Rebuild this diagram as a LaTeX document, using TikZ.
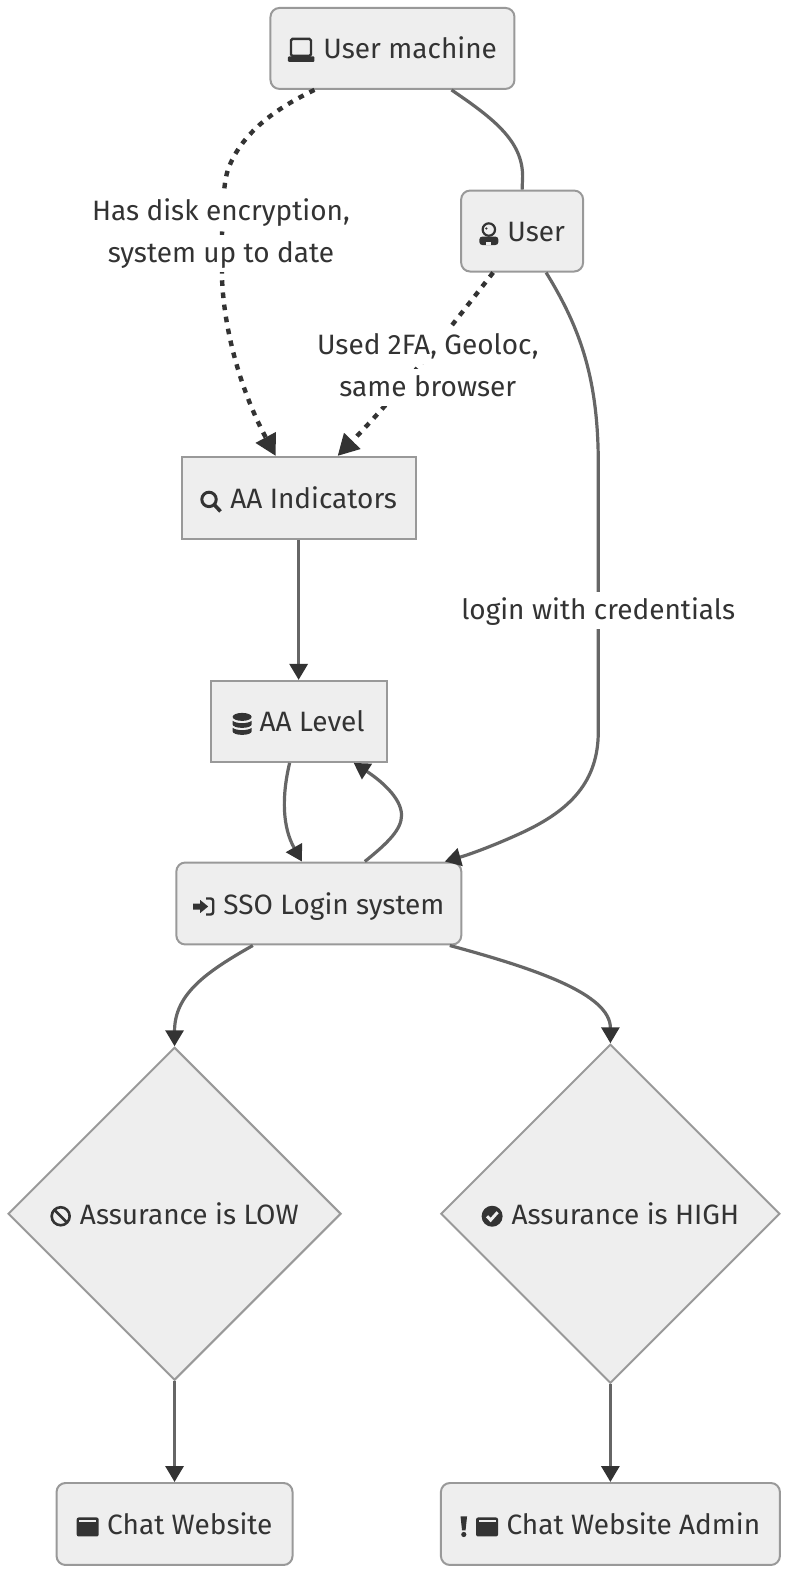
\documentclass[tikz,border=0pt]{standalone}
\usepackage{fontspec}
\setmainfont{Fira Sans}
\usetikzlibrary{arrows.meta,shapes.geometric}
\definecolor{nodefill}{HTML}{EEEEEE}
\definecolor{nodeline}{HTML}{999999}
\definecolor{edgeline}{HTML}{666666}
\definecolor{inktext}{HTML}{333333}
\tikzset{
  flowbox/.style={rectangle, draw=nodeline, fill=nodefill, line width=2pt, text=inktext, inner sep=0pt, text height=24pt, text depth=3pt, font=\fontsize{28}{42}\selectfont},
  softbox/.style={flowbox, rounded corners=9pt},
  choice/.style={flowbox, diamond, aspect=1},
  edgetext/.style={text=inktext, inner sep=0pt, align=center, font=\fontsize{28}{42}\selectfont},
  plainedge/.style={edgeline, line width=3.2pt},
  flow/.style={plainedge, -{Triangle[length=16pt,width=18pt,color=inktext]}},
  dotflow/.style={inktext, line width=4.4pt, dash pattern=on 5.6pt off 6.6pt, -{Triangle[length=21pt,width=22pt,color=inktext]}},
  iconpic/.style={x=1pt, y=1pt, baseline=0pt, inktext, sharp corners}
}
\newcommand{\linebg}[1]{\colorbox{white}{\rule{0pt}{25pt}\rule[-6pt]{0pt}{6pt}#1}}
\newcommand{\laptopicon}{\tikz[iconpic]{
  \draw[line width=2.4pt, rounded corners=1.5pt] (3,3) rectangle (23,20);
  \fill[rounded corners=1pt] (0,-3) rectangle (26.5,2.5);}\hspace{9pt}}
\newcommand{\usericon}{\tikz[iconpic]{
  \draw[line width=2.2pt] (9.5,12) circle (6.2);
  \fill (7,13) circle (1.2);
  \fill[rounded corners=3pt] (0,-3.5) rectangle (19,5);
  \fill[nodefill] (7,-3.5) rectangle (12,-.5);}\hspace{9pt}}
\newcommand{\searchicon}{\tikz[iconpic]{
  \draw[line width=3pt] (9,9) circle (7.2);
  \draw[line width=3.6pt] (14,4) -- (20.5,-3);}\hspace{8pt}}
\newcommand{\dbicon}{\tikz[iconpic]{
  \fill (9.5,15) ellipse (9.5 and 4);
  \fill (0,11) -- (0,7.5) arc[start angle=180, end angle=360, x radius=9.5, y radius=3.5] -- (19,11) .. controls (15,8) and (4,8) .. cycle;
  \fill (0,4) -- (0,.5) arc[start angle=180, end angle=360, x radius=9.5, y radius=3.5] -- (19,4) .. controls (15,1) and (4,1) .. cycle;}\hspace{8pt}}
\newcommand{\signicon}{\tikz[iconpic]{
  \fill (0,4.5) -- (7,4.5) -- (7,1) -- (15,7.5) -- (7,14) -- (7,10.5) -- (0,10.5) -- cycle;
  \draw[line width=2.4pt, rounded corners=2.5pt] (13,15.5) -- (20,15.5) -- (20,-.5) -- (13,-.5);}\hspace{9pt}}
\newcommand{\banicon}{\tikz[iconpic]{
  \draw[line width=2.6pt] (10.5,8) circle (9);
  \draw[line width=2.6pt] (4.2,14.3) -- (16.8,1.7);}\hspace{9pt}}
\newcommand{\checkicon}{\tikz[iconpic]{
  \fill (10.5,8) circle (10.5);
  \draw[nodefill, line width=3pt] (5.5,8) -- (9,4.2) -- (16,12);}\hspace{9pt}}
\newcommand{\windowicon}{\tikz[iconpic]{
  \fill[rounded corners=2pt] (0,-2) rectangle (22,17);
  \fill[nodefill] (2.5,12) rectangle (19.5,14.5);}\hspace{8.5pt}}
\newcommand{\alerticon}{\tikz[iconpic]{
  \fill (0,18) -- (6.5,18) -- (5,4) -- (1.5,4) -- cycle;
  \fill (3.25,0) circle (2.6);}\hspace{9pt}}
\begin{document}
\begin{tikzpicture}[x=1.009pt,y=-1.009pt]
  \useasboundingbox (0,0) rectangle (782,1569);
  \node[softbox, minimum width=244pt, minimum height=81pt] (machine) at (389,48) {\laptopicon User machine};
  \node[softbox, minimum width=122pt, minimum height=81pt] (user) at (517.5,229) {\usericon User};
  \node[flowbox, minimum width=234pt, minimum height=82pt] (indicators) at (296,493.5) {\searchicon AA Indicators};
  \node[flowbox, minimum width=176pt, minimum height=81pt] (level) at (296,715) {\dbicon AA Level};
  \node[softbox, minimum width=285pt, minimum height=82pt] (sso) at (316,895.5) {\signicon SSO Login system};
  \node[choice, minimum width=333pt, minimum height=333pt] (low) at (173,1203) {\banicon Assurance is LOW};
  \node[choice, minimum width=339pt, minimum height=339pt] (high) at (605,1203) {\checkicon Assurance is HIGH};
  \node[softbox, minimum width=236pt, minimum height=82pt] (chat) at (173,1510.5) {\windowicon Chat Website};
  \node[softbox, minimum width=339pt, minimum height=82pt] (admin) at (605,1510.5) {\alerticon\windowicon Chat Website Admin};

  \draw[dotflow] ([xshift=-78pt]machine.south) .. controls (268,110) and (238,135) .. (226,168)
    .. controls (219,188) and (220,245) .. (220,275)
    .. controls (222,330) and (240,390) .. ([xshift=-23pt]indicators.north);
  \draw[plainedge] ([xshift=59pt]machine.south) .. controls (490,118) and (518,140) .. (518,175) -- (user.north);
  \draw[dotflow] ([xshift=-29pt]user.south) .. controls (450,320) and (400,385) .. ([xshift=39pt]indicators.north);
  \draw[flow] ([xshift=24pt]user.south) .. controls (575,325) and (593,375) .. (593,460) -- (593,725)
    .. controls (593,775) and (565,803) .. (518,825)
    .. controls (490,838) and (465,847) .. ([xshift=126pt]sso.north);
  \draw[flow] (indicators) -- (level);
  \draw[flow] ([xshift=-9pt]level.south) .. controls (279,790) and (280,820) .. ([xshift=-17pt]sso.north);
  \draw[flow] ([xshift=46pt]sso.north) .. controls (385,835) and (398,822) .. (398,808)
    .. controls (398,790) and (375,772) .. ([xshift=55pt]level.south);
  \draw[flow] ([xshift=-66pt]sso.south) .. controls (205,963) and (173,985) .. (low.north);
  \draw[flow] ([xshift=131pt]sso.south) .. controls (530,960) and (605,985) .. (high.north);
  \draw[flow] (low) -- (chat);
  \draw[flow] (high) -- (admin);

  \node[edgetext] (disklabel) at (219,230) {\linebg{Has disk encryption,}\\\linebg{system up to date}};
  \node[edgetext] (twofalabel) at (424,363) {\linebg{Used 2FA, Geoloc,}\\\linebg{same browser}};
  \node[edgetext] (loginlabel) at (593,605) {\linebg{login with credentials}};
\end{tikzpicture}
\end{document}
